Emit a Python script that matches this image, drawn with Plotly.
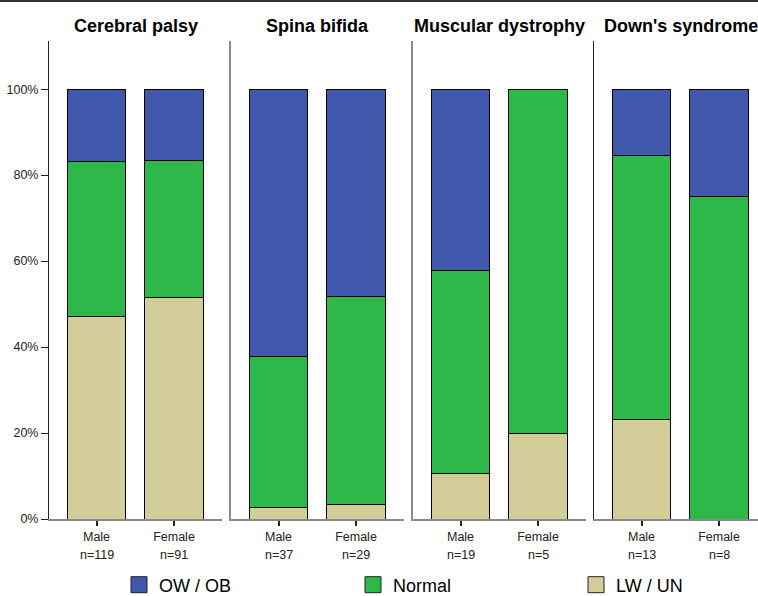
import plotly.graph_objects as go

# ---------------- data ----------------
groups = ["Cerebral palsy", "Spina bifida", "Muscular dystrophy", "Down's syndrome"]
sexes = ["Male", "Female"]
n_labels = [["n=119", "n=91"], ["n=37", "n=29"], ["n=19", "n=5"], ["n=13", "n=8"]]

# percentages per group: [Male, Female]
lw_un = [[47.1, 51.6], [2.7, 3.4], [10.5, 20.0], [23.1, None]]
normal = [[36.1, 31.9], [35.1, 48.3], [47.4, 80.0], [61.5, 75.0]]
ow_ob = [[16.8, 16.5], [62.2, 48.3], [42.1, None], [15.4, 25.0]]

series = [("LW / UN", lw_un, "#D3CE99"),
          ("Normal", normal, "#2EB84A"),
          ("OW / OB", ow_ob, "#3F58AB")]

y_ticks = [0, 20, 40, 60, 80, 100]

# ---------------- layout geometry ----------------
W, H = 758, 596
ML, MR, MT, MB = 49, 0, 41, 77
PW = W - ML - MR
PH = H - MT - MB
panel_left = [0, 182, 364, 545]
panel_w = 173
unit = 77.5
x0 = -0.613

fig = go.Figure()

for gi, g in enumerate(groups):
    xa = "x" if gi == 0 else f"x{gi+1}"
    ya = "y" if gi == 0 else f"y{gi+1}"
    for name, vals, col in series:
        fig.add_trace(go.Bar(
            x=sexes, y=vals[gi], name=name, xaxis=xa, yaxis=ya,
            marker=dict(color=col, line=dict(color="black", width=1)),
            width=0.75, showlegend=False,
        ))

font_main = "Liberation Sans, Arial, sans-serif"

for gi, g in enumerate(groups):
    sfx = "" if gi == 0 else str(gi + 1)
    left = panel_left[gi] / PW
    right = min((panel_left[gi] + panel_w) / PW, 1.0)
    width_px = (right - left) * PW
    dark = gi in (0, 3)
    fig.layout["xaxis" + sfx] = dict(
        domain=[left, right], range=[x0, x0 + width_px / unit],
        type="category", categoryorder="array", categoryarray=sexes,
        showline=True, linecolor="#8a8a8a", linewidth=1.5,
        ticks="outside", ticklen=5, tickcolor="#222", tickwidth=1.5,
        tickfont=dict(family=font_main, size=12.5, color="#222"),
        showgrid=False, zeroline=False, fixedrange=True,
        anchor="y" + sfx, automargin=False,
    )
    fig.layout["yaxis" + sfx] = dict(
        domain=[0, 1], range=[0, 111.2],
        tickvals=y_ticks, ticktext=[f"{v}%" for v in y_ticks],
        showticklabels=(gi == 0), ticks="outside" if gi == 0 else "",
        ticklen=7, tickcolor="#222", tickwidth=1.2,
        tickfont=dict(family=font_main, size=12.5, color="#222"),
        showline=True, linecolor="#222" if dark else "#8a8a8a",
        linewidth=1 if dark else 1.5,
        showgrid=False, zeroline=False, fixedrange=True,
        anchor="x" + sfx, automargin=False,
    )

annotations = []
for gi, g in enumerate(groups):
    sfx = "" if gi == 0 else str(gi + 1)
    center = (panel_left[gi] + panel_w / 2) / PW
    annotations.append(dict(
        text=f"<b>{g}</b>", x=center, xref="paper", xanchor="center",
        y=(PH - (26 - MT)) / PH, yref="paper", yanchor="middle",
        showarrow=False, font=dict(family=font_main, size=18, color="black"),
    ))
    for si, s in enumerate(sexes):
        annotations.append(dict(
            text=n_labels[gi][si], x=s, xref="x" + sfx, xanchor="center",
            y=-(555 - (MT + PH)) / PH, yref="paper", yanchor="middle",
            showarrow=False, font=dict(family=font_main, size=12.5, color="#222"),
        ))

# legend via dummy square markers, each in its own legend box
legend_order = [("OW / OB", "#3F58AB", 134), ("Normal", "#2EB84A", 368), ("LW / UN", "#D3CE99", 591)]
for li, (name, col, px) in enumerate(legend_order):
    lg = "legend" if li == 0 else f"legend{li+1}"
    fig.add_trace(go.Scatter(
        x=[None], y=[None], mode="markers", name=name, legend=lg,
        marker=dict(symbol="square", size=16, color=col, line=dict(color="#222", width=1)),
        showlegend=True, xaxis="x", yaxis="y",
    ))
    fig.layout[lg] = dict(
        x=(px - 15 - ML) / PW, xanchor="left",
        y=-(585 - (MT + PH)) / PH, yanchor="middle",
        orientation="h", bgcolor="rgba(0,0,0,0)",
        font=dict(family=font_main, size=18, color="black"),
    )

fig.update_layout(
    width=W, height=H,
    margin=dict(l=ML, r=MR, t=MT, b=MB, autoexpand=False),
    paper_bgcolor="white", plot_bgcolor="white",
    barmode="stack", bargap=0.25,
    annotations=annotations,
    shapes=[dict(type="line", xref="paper", yref="paper",
                 x0=-ML / PW, x1=1.0, y0=(PH + MT - 1.0) / PH, y1=(PH + MT - 1.0) / PH,
                 line=dict(color="#333", width=2))],
)

fig.write_html("out.html", config={"displayModeBar": False},
               post_script="document.body.style.margin='0';document.body.style.overflow='hidden';")
